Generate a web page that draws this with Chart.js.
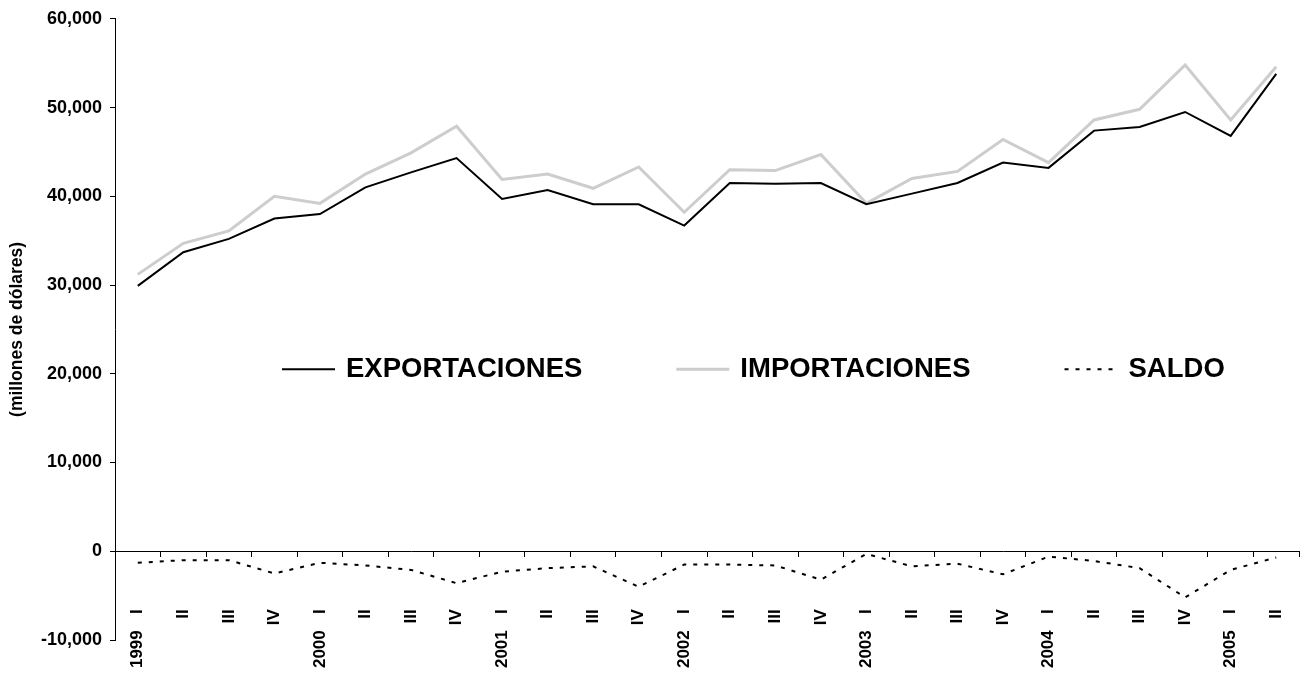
<!DOCTYPE html>
<html>
<head>
<meta charset="utf-8">
<script src="https://cdn.jsdelivr.net/npm/chart.js@4.4.1/dist/chart.umd.min.js"></script>
<style>
html,body{margin:0;padding:0;background:#fff;}
#wrap{width:1304px;height:677px;position:relative;}
</style>
</head>
<body>
<div id="wrap"><canvas id="c"></canvas></div>
<script>
// ---- data ----
const quarters = ['I','II','III','IV','I','II','III','IV','I','II','III','IV','I','II','III','IV','I','II','III','IV','I','II','III','IV','I','II'];
const years = ['1999','','','','2000','','','','2001','','','','2002','','','','2003','','','','2004','','','','2005',''];
const exportaciones = [29900, 33700, 35200, 37500, 38000, 41000, 42700, 44300, 39700, 40700, 39100, 39100, 36700, 41500, 41400, 41500, 39100, 40300, 41500, 43800, 43200, 47400, 47800, 49500, 46800, 53800];
const importaciones = [31200, 34700, 36100, 40000, 39200, 42500, 44900, 47900, 41900, 42500, 40900, 43300, 38200, 43000, 42900, 44700, 39200, 42000, 42800, 46400, 43800, 48600, 49800, 54800, 48600, 54600];
const saldo = [-1300, -1000, -1000, -2500, -1300, -1600, -2100, -3600, -2300, -1900, -1700, -4000, -1500, -1500, -1600, -3200, -300, -1700, -1400, -2600, -600, -1100, -1900, -5200, -2100, -700];
const yMin = -10000, yMax = 60000, yStep = 10000;
const yTitle = '(millones de dólares)';

const FONT = "'Liberation Sans', Arial, Helvetica, sans-serif";
Chart.defaults.font.family = FONT;
Chart.defaults.color = '#000';

const inlineLegend = {
  id: 'inlineLegend',
  afterDatasetsDraw(chart, args, o) {
    const {ctx, chartArea: ca} = chart;
    ctx.save();
    ctx.font = 'bold ' + o.fontSize + 'px ' + FONT;
    ctx.textBaseline = 'middle';
    ctx.textAlign = 'left';
    ctx.fillStyle = '#000';
    let x = ca.left + o.offsetX;
    const y = ca.top + o.fracY * (ca.bottom - ca.top);
    chart.data.datasets.forEach(ds => {
      ctx.beginPath();
      ctx.lineWidth = ds.borderWidth;
      ctx.strokeStyle = ds.borderColor;
      ctx.setLineDash(ds.borderDash || []);
      ctx.moveTo(x, y);
      ctx.lineTo(x + o.lineLen, y);
      ctx.stroke();
      ctx.setLineDash([]);
      x += o.lineLen + o.gap;
      ctx.fillText(ds.label, x, y);
      x += ctx.measureText(ds.label).width + o.itemGap;
    });
    ctx.restore();
  }
};

const tickFont = {size: 17, weight: 'bold'};
const noSidePadding = s => { s.paddingLeft = 0; s.paddingRight = 0; };

new Chart(document.getElementById('c'), {
  type: 'line',
  data: {
    labels: quarters,
    datasets: [
      {label: 'EXPORTACIONES', data: exportaciones, borderColor: '#000', borderWidth: 2, pointRadius: 0, fill: false, tension: 0},
      {label: 'IMPORTACIONES', data: importaciones, borderColor: '#cdcdcd', borderWidth: 3, pointRadius: 0, fill: false, tension: 0},
      {label: 'SALDO', data: saldo, borderColor: '#000', borderWidth: 2, borderDash: [4, 7], pointRadius: 0, fill: false, tension: 0}
    ]
  },
  options: {
    responsive: true,
    maintainAspectRatio: false,
    animation: false,
    layout: {padding: {left: 0, right: 5, top: 16, bottom: 37}},
    plugins: {
      legend: {display: false},
      tooltip: {enabled: false},
      inlineLegend: {fontSize: 27.5, offsetX: 167, fracY: 0.564, lineLen: 53, gap: 11, itemGap: 94}
    },
    scales: {
      x: {
        type: 'category',
        position: {y: 0},
        offset: true,
        afterFit: noSidePadding,
        grid: {display: true, drawOnChartArea: false, drawTicks: true, tickLength: 5, color: '#000', offset: true},
        border: {display: true, color: '#000', width: 1},
        ticks: {autoSkip: false, minRotation: 90, maxRotation: 90, padding: 53, font: tickFont, color: '#000'}
      },
      x2: {
        type: 'category',
        axis: 'x',
        labels: years,
        position: {y: 0},
        offset: true,
        afterFit: noSidePadding,
        grid: {display: false, drawTicks: false},
        border: {display: false},
        ticks: {autoSkip: false, minRotation: 90, maxRotation: 90, padding: 79, font: tickFont, color: '#000'}
      },
      y: {
        min: yMin,
        max: yMax,
        afterFit: s => { s.width = 115; },
        grid: {drawOnChartArea: false, drawTicks: true, tickLength: 5, color: '#000'},
        border: {display: true, color: '#000', width: 1},
        ticks: {stepSize: yStep, padding: 8, font: {size: 18, weight: 'bold'}, color: '#000', callback: v => Number(v).toLocaleString('en-US')},
        title: {display: true, text: yTitle, font: {size: 17.5, weight: 'bold'}, color: '#000', padding: {top: 7, bottom: 0}}
      }
    }
  },
  plugins: [inlineLegend]
});
</script>
</body>
</html>
